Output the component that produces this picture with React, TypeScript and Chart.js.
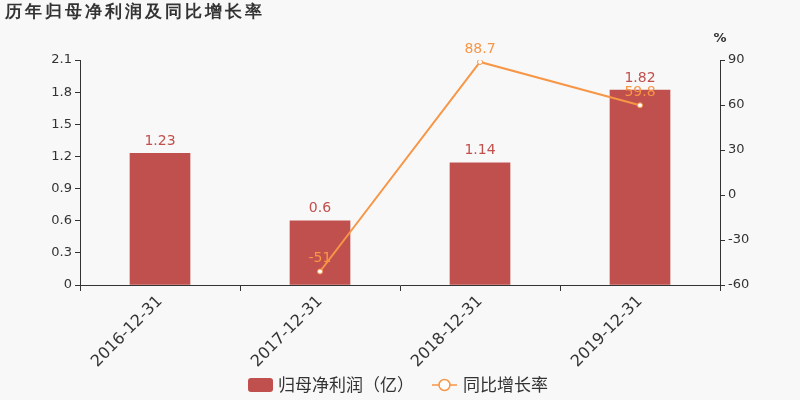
import React, { useEffect, useRef } from 'react';
import { Chart, registerables } from 'chart.js';

Chart.register(...registerables);

const categories = ['2016-12-31', '2017-12-31', '2018-12-31', '2019-12-31'];
const profitValues = [1.23, 0.6, 1.14, 1.82];
const growthValues: (number | null)[] = [null, -51, 88.7, 59.8];
const leftTicks = [0, 0.3, 0.6, 0.9, 1.2, 1.5, 1.8, 2.1];
const rightTicks = [-60, -30, 0, 30, 60, 90];

const TITLE = '历年归母净利润及同比增长率';
const BAR_COLOR = '#c0504d';
const LINE_COLOR = '#f79646';
const TEXT_COLOR = '#333333';
const FONT = "'DejaVu Sans', sans-serif";
const CJK_FONT = "'Noto Sans CJK SC', 'DejaVu Sans', sans-serif";

const extrasPlugin = {
  id: 'extras',
  afterDatasetsDraw(chart: Chart) {
    const { ctx } = chart;
    ctx.save();

    // title
    ctx.fillStyle = TEXT_COLOR;
    ctx.font = `bold 17px ${FONT}`;
    ctx.textAlign = 'left';
    ctx.textBaseline = 'middle';
    (ctx as any).letterSpacing = '3px';
    ctx.fillText(TITLE, 5, 13);
    (ctx as any).letterSpacing = '0px';

    ctx.textAlign = 'center';
    ctx.textBaseline = 'bottom';
    ctx.font = `14px ${FONT}`;
    // bar value labels
    const barMeta = chart.getDatasetMeta(0);
    barMeta.data.forEach((el: any, i) => {
      ctx.fillStyle = BAR_COLOR;
      ctx.fillText(String(profitValues[i]), el.x, el.y - 5);
    });
    // line value labels
    const lineMeta = chart.getDatasetMeta(1);
    lineMeta.data.forEach((el: any, i) => {
      const v = growthValues[i];
      if (v === null) return;
      ctx.fillStyle = LINE_COLOR;
      ctx.fillText(String(v), el.x, el.y - 6);
    });
    // unit label over the right axis
    ctx.fillStyle = TEXT_COLOR;
    ctx.font = `bold 13px ${FONT}`;
    ctx.fillText('%', chart.chartArea.right, 45);

    // legend
    const y = 385;
    ctx.font = `17px ${CJK_FONT}`;
    ctx.textBaseline = 'middle';
    ctx.textAlign = 'left';
    ctx.fillStyle = BAR_COLOR;
    ctx.beginPath();
    (ctx as any).roundRect(248, y - 7, 25, 14, 3);
    ctx.fill();
    ctx.fillStyle = TEXT_COLOR;
    ctx.fillText('归母净利润（亿）', 278, y);
    ctx.strokeStyle = LINE_COLOR;
    ctx.lineWidth = 1.5;
    ctx.beginPath();
    ctx.moveTo(432, y);
    ctx.lineTo(457, y);
    ctx.stroke();
    ctx.fillStyle = '#ffffff';
    ctx.beginPath();
    ctx.arc(444.5, y, 5.5, 0, Math.PI * 2);
    ctx.fill();
    ctx.stroke();
    ctx.fillStyle = TEXT_COLOR;
    ctx.fillText('同比增长率', 463, y);
    ctx.restore();
  },
};

const App: React.FC = () => {
  const canvasRef = useRef<HTMLCanvasElement>(null);

  useEffect(() => {
    document.body.style.margin = '0';
    document.body.style.background = '#f8f8f8';
    if (!canvasRef.current) return;
    const chart = new Chart(canvasRef.current, {
      type: 'bar',
      data: {
        labels: categories,
        datasets: [
          {
            type: 'bar',
            label: '归母净利润（亿）',
            data: profitValues,
            backgroundColor: BAR_COLOR,
            yAxisID: 'y',
            barThickness: 60,
            order: 2,
          },
          {
            type: 'line',
            label: '同比增长率',
            data: growthValues,
            borderColor: LINE_COLOR,
            borderWidth: 2,
            pointRadius: 2.5,
            pointBackgroundColor: '#ffffff',
            pointBorderColor: LINE_COLOR,
            pointBorderWidth: 1,
            yAxisID: 'y1',
            order: 1,
          },
        ],
      },
      options: {
        responsive: false,
        animation: false,
        layout: { padding: { left: 0, right: 0, top: 60, bottom: 0 } },
        plugins: {
          legend: { display: false },
          tooltip: { enabled: false },
          title: { display: false },
        },
        scales: {
          x: {
            grid: { display: true, drawOnChartArea: false, offset: true, tickLength: 6, color: TEXT_COLOR },
            border: { color: TEXT_COLOR },
            ticks: {
              color: TEXT_COLOR,
              font: { family: FONT, size: 16 },
              maxRotation: 45,
              minRotation: 45,
              padding: 1,
            },
            afterFit: (scale: any) => {
              scale.height = 115;
            },
          },
          y: {
            position: 'left',
            min: 0,
            max: 2.1,
            afterBuildTicks: (scale: any) => {
              scale.ticks = leftTicks.map((v) => ({ value: v }));
            },
            grid: { drawOnChartArea: false, tickLength: 5, color: TEXT_COLOR },
            border: { color: TEXT_COLOR },
            ticks: {
              color: TEXT_COLOR,
              font: { family: FONT, size: 13 },
              padding: 3,
              callback: (v: any) => String(v),
            },
            afterFit: (scale: any) => {
              scale.width = 80;
            },
          },
          y1: {
            position: 'right',
            min: -60,
            max: 90,
            afterBuildTicks: (scale: any) => {
              scale.ticks = rightTicks.map((v) => ({ value: v }));
            },
            grid: { drawOnChartArea: false, tickLength: 5, color: TEXT_COLOR },
            border: { color: TEXT_COLOR },
            ticks: {
              color: TEXT_COLOR,
              font: { family: FONT, size: 13 },
              padding: 3,
            },
            afterFit: (scale: any) => {
              scale.width = 80;
            },
          },
        },
      },
      plugins: [extrasPlugin],
    });
    return () => chart.destroy();
  }, []);

  return (
    <div style={{ width: 800, height: 400, background: '#f8f8f8' }}>
      <canvas ref={canvasRef} width={800} height={400} />
    </div>
  );
};

export default App;
